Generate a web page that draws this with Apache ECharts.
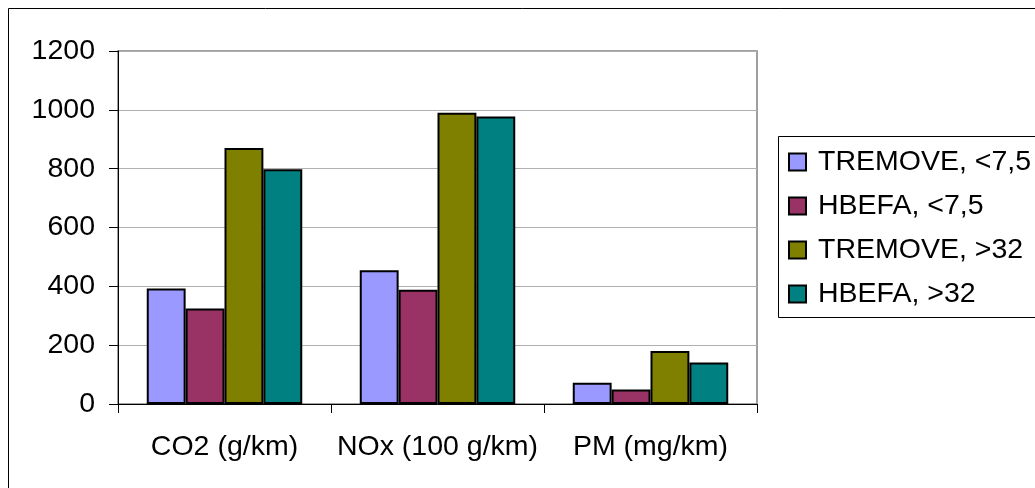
<!DOCTYPE html>
<html>
<head>
<meta charset="utf-8">
<script src="https://cdn.jsdelivr.net/npm/echarts@6/dist/echarts.min.js"></script>
<style>
html,body{margin:0;padding:0;background:#fff;}
#chart{width:1035px;height:488px;}
</style>
</head>
<body>
<div id="chart"></div>
<script>
const categories = ['CO2 (g/km)', 'NOx (100 g/km)', 'PM (mg/km)'];
const seriesNames = ['TREMOVE, <7,5', 'HBEFA, <7,5', 'TREMOVE, >32', 'HBEFA, >32'];
const tremoveSmall = [393, 455, 72];
const hbefaSmall = [325, 388, 49];
const tremoveLarge = [870, 990, 180];
const hbefaLarge = [798, 977, 141];
const seriesColors = ['#9999FF', '#993366', '#808000', '#008080'];
const yTicks = { min: 0, max: 1200, interval: 200 };

const seriesValues = [tremoveSmall, hbefaSmall, tremoveLarge, hbefaLarge];
const FONT = 'Liberation Sans, Arial, sans-serif';
const FS = 28.5;

const chart = echarts.init(document.getElementById('chart'), null, { renderer: 'canvas' });
chart.setOption({
  animation: false,
  backgroundColor: '#ffffff',
  textStyle: { fontFamily: FONT, color: '#000' },
  graphic: [{
    type: 'rect',
    shape: { x: 8.5, y: 8.5, width: 1200, height: 800 },
    style: { fill: 'none', stroke: '#000', lineWidth: 1 },
    silent: true,
    z: 100
  }, {
    type: 'rect',
    shape: { x: 778.5, y: 136.5, width: 400, height: 181 },
    style: { fill: 'none', stroke: '#000', lineWidth: 1 },
    silent: true,
    z: 100
  }],
  grid: {
    left: 118, right: 278, top: 51, bottom: 84,
    show: true, borderColor: '#808080', borderWidth: 1.5, backgroundColor: 'transparent'
  },
  legend: {
    orient: 'vertical',
    left: 778, top: 136,
    padding: [11, 0, 8, 10],
    itemWidth: 17, itemHeight: 17, itemGap: 14,
    icon: 'rect',
    textStyle: { fontFamily: FONT, fontSize: FS, color: '#000', lineHeight: 30, padding: [0, 0, 0, 7] },
    data: seriesNames
  },
  xAxis: {
    type: 'category',
    data: categories,
    axisLine: { lineStyle: { color: '#000', width: 1 } },
    axisTick: { show: true, length: 9, interval: 0, lineStyle: { color: '#000' } },
    axisLabel: { fontFamily: FONT, fontSize: FS, color: '#000', margin: 29, interval: 0 },
    splitLine: { show: false }
  },
  yAxis: {
    type: 'value',
    min: yTicks.min, max: yTicks.max, interval: yTicks.interval,
    axisLine: { show: true, lineStyle: { color: '#000', width: 1 } },
    axisTick: { show: true, length: 9, lineStyle: { color: '#000' } },
    axisLabel: { fontFamily: FONT, fontSize: FS, color: '#000', margin: 23, formatter: v => String(v) },
    splitLine: { show: true, lineStyle: { color: '#b0b0b0', width: 1 } }
  },
  series: seriesNames.map((name, i) => ({
    name: name,
    type: 'bar',
    data: seriesValues[i],
    barGap: '0%',
    barCategoryGap: '27%',
    itemStyle: { color: seriesColors[i], borderColor: '#000', borderWidth: 2 }
  }))
});
</script>
</body>
</html>
